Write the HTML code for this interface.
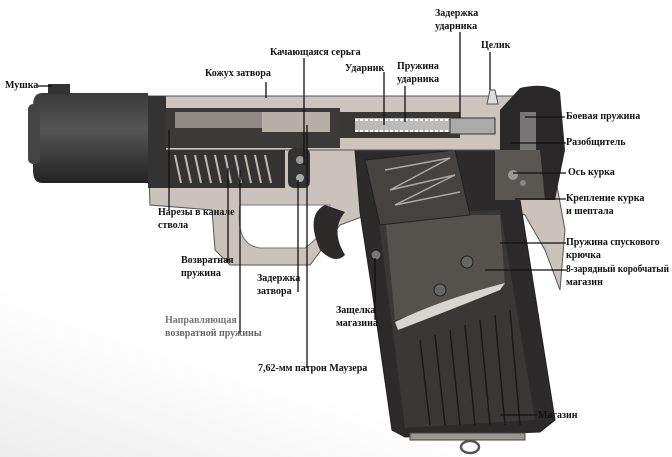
<!DOCTYPE html>
<html><head><meta charset="utf-8"><style>
html,body{margin:0;padding:0;background:#fff;}
svg{display:block}
text{font-family:"Liberation Serif","Noto Serif CJK SC",serif;font-weight:bold;font-size:10px;fill:#111}
</style></head><body>
<svg width="672" height="457" viewBox="0 0 672 457" xmlns="http://www.w3.org/2000/svg">
<defs>
<linearGradient id="bg" x1="0" y1="1" x2="0.5" y2="0"><stop offset="0" stop-color="#ededed"/><stop offset="0.3" stop-color="#fff"/></linearGradient>
<linearGradient id="dk" x1="0" y1="0" x2="0" y2="1"><stop offset="0" stop-color="#3a3a3a"/><stop offset="0.4" stop-color="#555"/><stop offset="1" stop-color="#222"/></linearGradient>
</defs>
<rect width="672" height="457" fill="url(#bg)"/>
<path d="M148,150 L520,150 L555,175 L565,230 L560,290 L545,250 L525,215 L510,210 L380,210 L340,225 L310,265 L230,265 L215,250 L212,210 L150,205 Z" fill="#c9c3bc" stroke="#555" stroke-width="1"/>
<path d="M240,205 Q235,245 260,248 L305,248 Q330,230 330,205 Z" fill="#fff" stroke="#777"/>
<path d="M325,205 Q305,215 320,250 Q335,265 345,255 Q330,230 345,212 Z" fill="#2e2a2a"/>
<path d="M355,150 L505,150 L520,200 L555,420 L540,432 L405,437 L392,430 L372,290 L360,212 Z" fill="#2c2a2a" stroke="#222"/>
<path d="M378,215 L500,210 L535,420 L405,428 Z" fill="#3a3836"/>
<path d="M385,215 L500,215 L505,285 L395,320 Z" fill="#55524e"/>
<path d="M395,322 Q440,300 505,283 L500,290 Q445,312 398,330 Z" fill="#d8d4cf"/>
<g stroke="#1a1a1a" stroke-width="1.5">
<line x1="420" y1="340" x2="430" y2="425"/><line x1="435" y1="335" x2="445" y2="425"/><line x1="450" y1="330" x2="460" y2="425"/><line x1="465" y1="325" x2="475" y2="425"/><line x1="480" y1="320" x2="490" y2="425"/><line x1="495" y1="315" x2="505" y2="425"/><line x1="510" y1="310" x2="520" y2="425"/>
</g>
<rect x="410" y="433" width="115" height="7" fill="#9a9690" stroke="#444"/>
<ellipse cx="470" cy="447" rx="9" ry="6" fill="none" stroke="#555" stroke-width="2.5"/>
<path d="M365,160 L455,150 L470,215 L380,225 Z" fill="#45423f" stroke="#222"/>
<g stroke="#aaa" stroke-width="1.5" fill="none"><path d="M385,170 L450,158 L390,190 L455,175 L395,205 L460,192"/></g>
<circle cx="376" cy="255" r="5" fill="#777" stroke="#222"/>
<circle cx="467" cy="262" r="6" fill="#666" stroke="#222"/>
<circle cx="440" cy="290" r="6" fill="#666" stroke="#222"/>
<path d="M148,96 L520,96 L520,150 L148,150 Z" fill="#cbc5be" stroke="#555"/>
<path d="M165,108 L340,108 L340,148 L165,148 Z" fill="#3c3a38"/>
<rect x="175" y="112" width="150" height="16" fill="#8f8a85"/>
<path d="M262,112 L330,112 L330,132 L262,132 Z" fill="#b5afa8"/>
<path d="M165,150 L285,150 L285,188 L165,188 Z" fill="#353331"/>
<g stroke="#bdb8b2" stroke-width="2">
<line x1="175" y1="155" x2="181" y2="183"/><line x1="185" y1="155" x2="191" y2="183"/><line x1="195" y1="155" x2="201" y2="183"/><line x1="205" y1="155" x2="211" y2="183"/><line x1="215" y1="155" x2="221" y2="183"/><line x1="225" y1="155" x2="231" y2="183"/><line x1="235" y1="155" x2="241" y2="183"/><line x1="245" y1="155" x2="251" y2="183"/><line x1="255" y1="155" x2="261" y2="183"/><line x1="265" y1="155" x2="271" y2="183"/>
</g>
<rect x="288" y="148" width="22" height="40" rx="6" fill="#333"/>
<circle cx="300" cy="160" r="4" fill="#999"/><circle cx="300" cy="178" r="4" fill="#aaa"/>
<rect x="340" y="112" width="120" height="26" fill="#3a3836"/>
<rect x="355" y="118" width="98" height="14" fill="#bbb"/>
<g stroke="#fff" stroke-width="2" stroke-dasharray="3 2"><line x1="355" y1="120" x2="450" y2="120"/><line x1="355" y1="131" x2="450" y2="131"/></g>
<rect x="450" y="118" width="45" height="16" fill="#aaa" stroke="#333"/>
<path d="M42,93 L148,93 L148,183 L42,183 Q33,183 33,170 L33,106 Q33,93 42,93 Z" fill="url(#dk)"/>
<rect x="28" y="104" width="12" height="60" rx="5" fill="#444"/>
<rect x="148" y="96" width="18" height="92" fill="#333"/>
<rect x="48" y="84" width="22" height="10" fill="#333"/>
<path d="M487,104 L490,90 L495,90 L498,104 Z" fill="#ddd" stroke="#555"/>
<path d="M500,110 L520,88 Q545,82 560,92 L565,150 L555,200 L500,200 Z" fill="#2a2828"/>
<path d="M495,150 L540,150 L545,200 L495,200 Z" fill="#5a5652"/>
<circle cx="513" cy="175" r="5" fill="#999"/><circle cx="523" cy="183" r="3" fill="#888"/>
<rect x="520" y="112" width="16" height="38" fill="#777"/>
<g stroke="#111" stroke-width="1.3" fill="none">
<line x1="38" y1="86" x2="52" y2="86"/>
<line x1="266" y1="82" x2="266" y2="98"/>
<line x1="304" y1="58" x2="304" y2="165"/>
<line x1="307" y1="125" x2="307" y2="368"/>
<line x1="384" y1="72" x2="384" y2="125"/>
<line x1="405" y1="86" x2="405" y2="122"/>
<line x1="460" y1="32" x2="460" y2="118"/>
<line x1="490" y1="52" x2="490" y2="90"/>
<line x1="525" y1="117" x2="565" y2="117"/>
<line x1="510" y1="143" x2="566" y2="143"/>
<line x1="513" y1="173" x2="566" y2="173"/>
<line x1="515" y1="199" x2="566" y2="199"/>
<line x1="500" y1="243" x2="566" y2="243"/>
<line x1="485" y1="270" x2="566" y2="270"/>
<line x1="500" y1="415" x2="537" y2="415"/>
<line x1="169" y1="130" x2="169" y2="210"/>
<line x1="228" y1="168" x2="228" y2="262"/>
<line x1="240" y1="170" x2="240" y2="333"/>
<line x1="298" y1="180" x2="298" y2="292"/>
<line x1="375" y1="258" x2="375" y2="320"/>
</g>
<text x="5" y="88">Мушка</text>
<text x="205" y="76">Кожух затвора</text>
<text x="270" y="55">Качающаяся серьга</text>
<text x="345" y="71">Ударник</text>
<text x="397" y="69">Пружина</text><text x="397" y="82">ударника</text>
<text x="435" y="16">Задержка</text><text x="435" y="29">ударника</text>
<text x="481" y="48">Целик</text>
<text x="566" y="119">Боевая пружина</text>
<text x="566" y="145">Разобщитель</text>
<text x="568" y="175">Ось курка</text>
<text x="566" y="201">Крепление курка</text><text x="566" y="214">и шептала</text>
<text x="566" y="245">Пружина спускового</text><text x="566" y="258">крючка</text>
<text x="566" y="272" textLength="103" lengthAdjust="spacingAndGlyphs">8-зарядный коробчатый</text><text x="566" y="285">магазин</text>
<text x="538" y="418">Магазин</text>
<text x="158" y="215">Нарезы в канале</text><text x="158" y="228">ствола</text>
<text x="181" y="263">Возвратная</text><text x="181" y="276">пружина</text>
<text x="165" y="323" style="fill:#777">Направляющая</text><text x="165" y="336" style="fill:#666">возвратной пружины</text>
<text x="258" y="371">7,62-мм патрон Маузера</text>
<text x="257" y="281">Задержка</text><text x="257" y="294">затвора</text>
<text x="336" y="313">Защелка</text><text x="336" y="326">магазина</text>
</svg>
</body></html>
